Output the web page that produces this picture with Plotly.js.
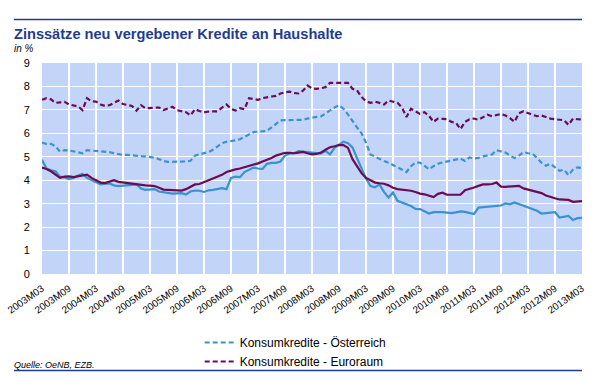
<!DOCTYPE html>
<html>
<head>
<meta charset="utf-8">
<script src="https://cdn.plot.ly/plotly-3.0.1.min.js"></script>
<style>
html,body{margin:0;padding:0;background:#fff;}
#chart{width:600px;height:388px;}
</style>
</head>
<body>
<div id="chart"></div>
<script>
// Month categories 2003M03 .. 2013M03
var months = [];
for (var yr = 2003; yr <= 2013; yr++) {
  for (var mo = 1; mo <= 12; mo++) {
    if (yr === 2003 && mo < 3) continue;
    if (yr === 2013 && mo > 3) continue;
    months.push(yr + 'M' + (mo < 10 ? '0' + mo : mo));
  }
}
var tickLabels = ['2003M03','2003M09','2004M03','2004M09','2005M03','2005M09','2006M03','2006M09',
  '2007M03','2007M09','2008M03','2008M09','2009M03','2009M09','2010M03','2010M09','2011M03','2011M09',
  '2012M03','2012M09','2013M03'];

// Konsumkredite - Österreich (dashed light blue)
var konsumAT = [5.6,5.55,5.55,5.45,5.22,5.28,5.27,5.22,5.2,5.15,5.28,5.27,5.25,5.22,5.22,5.2,5.15,5.1,5.08,5.08,
  5.06,5.02,5.03,5.02,5.0,4.96,4.9,4.82,4.78,4.78,4.79,4.78,4.8,4.83,5.05,5.1,5.14,5.2,5.3,5.45,
  5.58,5.64,5.66,5.7,5.75,5.85,5.95,6.05,6.07,6.08,6.1,6.25,6.4,6.55,6.56,6.56,6.55,6.56,6.58,6.63,
  6.68,6.7,6.72,6.85,6.95,7.1,7.2,7.05,6.8,6.5,6.25,6.0,5.6,5.1,5.0,4.92,4.82,4.75,4.65,4.55,
  4.45,4.35,4.6,4.75,4.75,4.6,4.47,4.6,4.7,4.76,4.8,4.82,4.85,4.92,4.82,4.97,4.93,4.95,5.02,5.05,
  5.1,5.28,5.22,5.18,5.05,4.95,5.05,5.2,5.15,5.13,4.95,4.75,4.62,4.7,4.55,4.4,4.45,4.22,4.45,4.55,4.52];

// Konsumkredite - Euroraum (dashed purple)
var konsumEA = [7.43,7.5,7.45,7.3,7.32,7.34,7.23,7.2,7.15,6.99,7.5,7.37,7.35,7.23,7.17,7.2,7.3,7.4,7.25,7.2,
  7.17,6.97,7.2,7.07,7.08,7.07,7.1,6.99,7.05,7.13,6.99,6.96,6.9,6.76,7.03,6.95,6.89,6.93,6.95,6.94,
  7.1,7.23,7.05,6.97,7.07,7.03,7.5,7.45,7.43,7.5,7.55,7.57,7.6,7.7,7.75,7.78,7.72,7.7,7.82,8.04,
  7.92,7.9,7.92,7.97,8.15,8.15,8.18,8.18,8.15,7.9,7.83,7.55,7.37,7.3,7.35,7.3,7.23,7.4,7.35,7.3,
  7.1,6.7,7.05,6.95,6.83,6.9,6.75,6.49,6.63,6.62,6.6,6.49,6.45,6.18,6.49,6.6,6.63,6.58,6.7,6.79,
  6.73,6.78,6.83,6.76,6.65,6.49,6.86,6.94,6.85,6.79,6.73,6.76,6.7,6.63,6.6,6.58,6.56,6.36,6.63,6.6,6.59];

// Wohnbaukredite - Österreich (solid light blue)
var wohnAT = [4.87,4.5,4.42,4.38,4.15,4.12,4.05,4.1,4.2,4.27,4.1,4.0,3.9,3.82,3.85,3.86,3.78,3.75,3.77,3.8,
  3.8,3.82,3.65,3.59,3.6,3.62,3.52,3.49,3.45,3.43,3.44,3.45,3.39,3.52,3.56,3.55,3.5,3.57,3.59,3.62,
  3.66,3.62,4.1,4.15,4.13,4.35,4.45,4.54,4.5,4.48,4.7,4.74,4.74,4.8,5.05,5.14,5.15,5.24,5.22,5.2,
  5.18,5.15,5.14,5.25,5.1,5.38,5.5,5.64,5.58,5.4,4.95,4.5,4.07,3.75,3.7,3.82,3.5,3.26,3.48,3.12,
  3.05,2.99,2.9,2.78,2.77,2.68,2.58,2.64,2.65,2.64,2.62,2.6,2.63,2.67,2.65,2.6,2.56,2.83,2.85,2.86,
  2.91,2.9,2.92,3.01,2.97,3.05,2.98,2.91,2.82,2.78,2.7,2.58,2.59,2.6,2.64,2.41,2.45,2.48,2.3,2.38,2.39];

// Wohnbaukredite - Euroraum (solid purple)
var wohnEA = [4.54,4.48,4.38,4.25,4.1,4.15,4.16,4.13,4.17,4.22,4.24,4.1,4.0,3.9,3.88,3.93,4.0,3.93,3.9,3.87,
  3.86,3.84,3.8,3.78,3.77,3.75,3.68,3.6,3.59,3.58,3.55,3.56,3.62,3.72,3.82,3.84,3.92,4.0,4.08,4.18,
  4.23,4.35,4.42,4.46,4.5,4.55,4.6,4.66,4.72,4.8,4.86,4.95,5.05,5.12,5.17,5.17,5.15,5.18,5.21,5.15,
  5.1,5.12,5.18,5.3,5.41,5.45,5.5,5.5,5.38,4.9,4.6,4.3,4.1,4.0,3.9,3.87,3.85,3.78,3.68,3.62,
  3.6,3.58,3.55,3.5,3.43,3.4,3.35,3.28,3.42,3.47,3.38,3.37,3.36,3.38,3.57,3.62,3.69,3.76,3.82,3.82,
  3.84,3.9,3.73,3.72,3.73,3.74,3.76,3.65,3.6,3.55,3.5,3.45,3.35,3.28,3.23,3.18,3.16,3.16,3.08,3.1,3.11];

var lightBlue = '#3A93CD';
var purple = '#6C0B52';
var font = 'Arial, "Liberation Sans", sans-serif';

var traces = [
  {x: months, y: wohnAT, type: 'scatter', mode: 'lines', name: 'Wohnbaukredite - Österreich',
   line: {color: lightBlue, width: 2.2}, showlegend: false, hoverinfo: 'skip'},
  {x: months, y: wohnEA, type: 'scatter', mode: 'lines', name: 'Wohnbaukredite - Euroraum',
   line: {color: purple, width: 2.2}, showlegend: false, hoverinfo: 'skip'},
  {x: months, y: konsumAT, type: 'scatter', mode: 'lines', name: 'Konsumkredite - Österreich',
   line: {color: lightBlue, width: 2.2, dash: '5px,3px'}},
  {x: months, y: konsumEA, type: 'scatter', mode: 'lines', name: 'Konsumkredite - Euroraum',
   line: {color: purple, width: 2.2, dash: '5px,3px'}}
];

var layout = {
  width: 600, height: 388,
  margin: {l: 42, r: 18, t: 63, b: 102, pad: 0},
  paper_bgcolor: '#ffffff',
  plot_bgcolor: '#C2D4F8',
  font: {family: font, size: 11, color: '#000'},
  showlegend: true,
  legend: {
    x: 0.292, xanchor: 'left', y: -0.256, yanchor: 'top',
    orientation: 'v', bgcolor: 'rgba(0,0,0,0)',
    font: {family: font, size: 12, color: '#000'},
    itemwidth: 30, tracegroupgap: 0
  },
  xaxis: {
    type: 'category', range: [0, months.length - 1],
    tickmode: 'array', tickvals: tickLabels, ticktext: tickLabels,
    tickangle: -35, ticks: 'outside', ticklen: 4, tickcolor: 'rgba(0,0,0,0)',
    showline: false, zeroline: false,
    showgrid: true, gridcolor: '#ffffff', gridwidth: 1.2,
    tickfont: {family: font, size: 10, color: '#000'}
  },
  yaxis: {
    range: [0, 9], dtick: 1, tick0: 0,
    ticks: 'outside', ticklen: 9, tickcolor: 'rgba(0,0,0,0)',
    showline: false, zeroline: false,
    showgrid: true, gridcolor: '#ffffff', gridwidth: 1.2,
    tickfont: {family: font, size: 11, color: '#000'}
  },
  shapes: [
    {type: 'line', xref: 'paper', yref: 'paper', x0: -0.052, x1: 1.0, y0: 1.206, y1: 1.206,
     line: {color: '#1E3C96', width: 1.5}},
    {type: 'line', xref: 'paper', yref: 'paper', x0: -0.052, x1: 1.0, y0: -0.457, y1: -0.457,
     line: {color: '#1E3C96', width: 1.5}}
  ],
  annotations: [
    {text: '<b>Zinssätze neu vergebener Kredite an Haushalte</b>', xref: 'paper', yref: 'paper',
     x: -0.056, y: 1.137, xanchor: 'left', yanchor: 'middle', showarrow: false,
     font: {family: font, size: 14.6, color: '#1F3C8F'}},
    {text: '<i>in %</i>', xref: 'paper', yref: 'paper', x: -0.056, y: 1.07, xanchor: 'left',
     yanchor: 'middle', showarrow: false, font: {family: font, size: 10, color: '#000'}},
    {text: '<i>Quelle: OeNB, EZB.</i>', xref: 'paper', yref: 'paper', x: -0.056, y: -0.43,
     xanchor: 'left', yanchor: 'middle', showarrow: false, font: {family: font, size: 9, color: '#000'}}
  ]
};

Plotly.newPlot('chart', traces, layout, {displayModeBar: false, staticPlot: true});
</script>
</body>
</html>
